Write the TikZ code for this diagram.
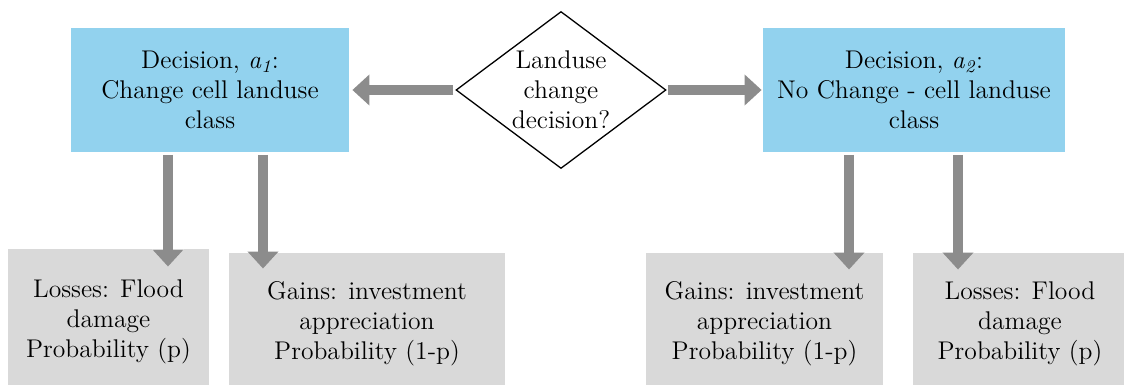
\documentclass[tikz,border=0pt]{standalone}
\usetikzlibrary{shapes.geometric,arrows.meta}
\definecolor{boxblue}{RGB}{146,210,238}
\definecolor{boxgray}{RGB}{217,217,217}
\definecolor{arrgray}{RGB}{140,140,140}
\begin{document}
\begin{tikzpicture}[x=0.5pt,y=-0.5pt,
  font=\fontsize{12.8}{15}\selectfont,
  bluebox/.style={fill=boxblue, minimum height=62pt, inner sep=0pt, align=center},
  graybox/.style={fill=boxgray, inner sep=0pt, align=center},
  fatarrow/.style={draw=arrgray, line width=5pt, -{Triangle[width=15pt,length=8.5pt,fill=arrgray]}},
  halo/.style={draw=white, line width=5pt, -{Triangle[width=17pt,length=9.6pt,fill=white]}},
]
\useasboundingbox (0,0) rectangle (1124,385);
\clip (0,0) rectangle (1124,385);
% nodes
\node[bluebox, minimum width=139pt] (d1) at (210,90) {Decision, \textit{a}\textsubscript{\textit{1}}:\\Change cell landuse\\class};
\node[diamond, draw, line width=0.65pt, minimum width=105pt, minimum height=78.5pt, inner sep=0pt] (dec) at (561,90) {};
\node[align=center, inner sep=0pt] (dect) at (dec.center) {Landuse\\change\\decision?};
\node[bluebox, minimum width=151pt] (d2) at (914,90) {Decision, \textit{a}\textsubscript{\textit{2}}:\\No Change - cell landuse\\class};
\node[graybox, minimum width=100.5pt, minimum height=73pt] (g1) at (108.5,322) {Losses: Flood\\damage\\Probability (p)};
\node[graybox, minimum width=138pt, minimum height=71pt] (g2) at (367,324) {Gains: investment\\appreciation\\Probability (1-p)};
\node[graybox, minimum width=118.5pt, minimum height=71pt] (g3) at (764.5,324) {Gains: investment\\appreciation\\Probability (1-p)};
\node[graybox, minimum width=107pt, minimum height=71pt] (g4) at (1020,324) {Losses: Flood\\damage\\Probability (p)};
% horizontal connectors
\draw[fatarrow, shorten <=1pt, shorten >=1.5pt] (dec.west) -- (d1.east);
\draw[fatarrow, shorten <=0.5pt, shorten >=0.5pt] (dec.east) -- (d2.west);
% vertical connectors
\coordinate (s1) at ([xshift=-21pt,yshift=-1.25pt]d1.south);
\coordinate (s2) at ([xshift=26.5pt,yshift=-1.25pt]d1.south);
\coordinate (s3) at ([xshift=-32.5pt,yshift=-1.25pt]d2.south);
\coordinate (s4) at ([xshift=22pt,yshift=-1.25pt]d2.south);
\draw[halo, shorten >=-9pt] (s1) -- (s1 |- g1.north);
\draw[fatarrow, shorten >=-9pt] (s1) -- (s1 |- g1.north);
\draw[halo, shorten >=-8pt] (s2) -- (s2 |- g2.north);
\draw[fatarrow, shorten >=-8pt] (s2) -- (s2 |- g2.north);
\draw[halo, shorten >=-8.5pt] (s3) -- (s3 |- g3.north);
\draw[fatarrow, shorten >=-8.5pt] (s3) -- (s3 |- g3.north);
\draw[halo, shorten >=-8.5pt] (s4) -- (s4 |- g4.north);
\draw[fatarrow, shorten >=-8.5pt] (s4) -- (s4 |- g4.north);
\end{tikzpicture}
\end{document}
